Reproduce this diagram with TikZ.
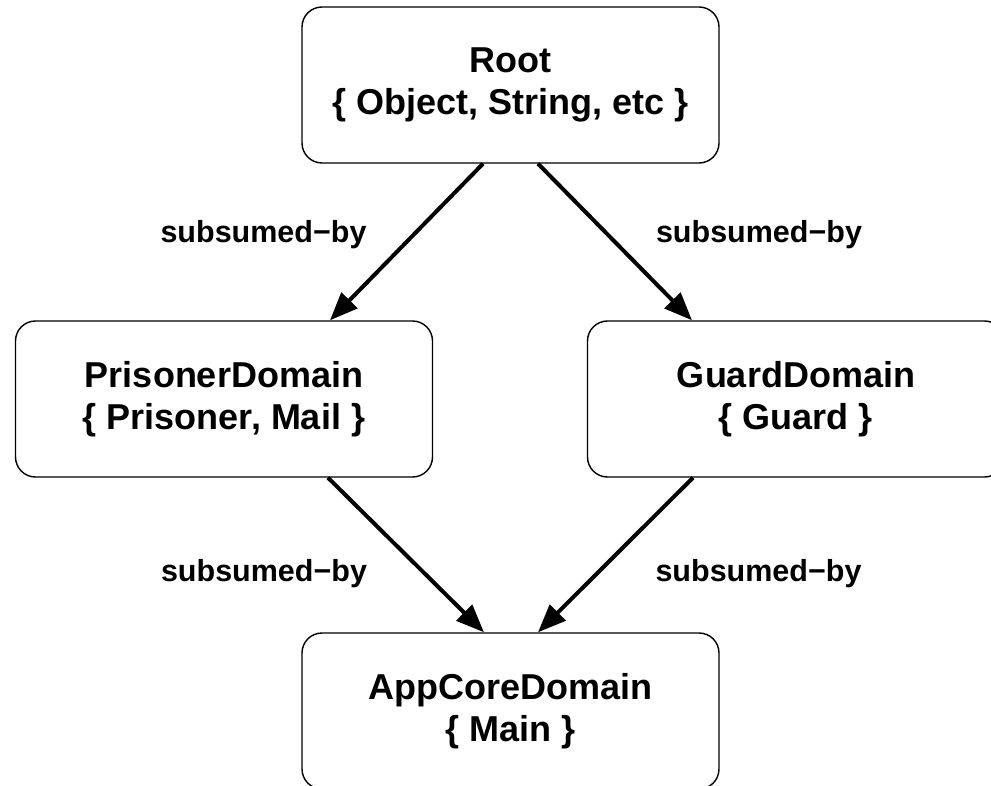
\documentclass[tikz,border=0pt]{standalone}
\usepackage{fontspec}
\setmainfont{Liberation Sans}
\usetikzlibrary{arrows.meta}
\tikzset{
  domainbox/.style={draw, line width=1.4pt, rounded corners=20pt, minimum width=417pt,
    minimum height=156pt, align=center, inner sep=0pt,
    font=\bfseries\fontsize{36}{42}\selectfont},
  sublabel/.style={anchor=base, inner sep=0pt, font=\bfseries\fontsize{30.5}{36}\selectfont},
  subarrow/.style={line width=4pt, -{Triangle[length=28pt,width=22pt]}}
}
\begin{document}
\begin{tikzpicture}[x=1pt,y=-1pt]
  \useasboundingbox (0,0) rectangle (991,786);%

  % Drawing boxes
  \node [domainbox] (root) at (510.5,85) {Root\\\{ Object, String, etc \}};%
  \node [domainbox] (prisoner) at (224,399) {PrisonerDomain\\\{ Prisoner, Mail \}};%
  \node [domainbox] (guard) at (796,399) {GuardDomain\\\{ Guard \}};%
  \node [domainbox] (appcore) at (510.5,711) {AppCoreDomain\\\{ Main \}};%

  % Drawing subsumed-by arrows
  \draw [subarrow] ([xshift=-27.5pt]root.south) -- ([xshift=106pt]prisoner.north);%
  \draw [subarrow] ([xshift=27.5pt]root.south) -- ([xshift=-104pt]guard.north);%
  \draw [subarrow] ([xshift=104pt]prisoner.south) -- ([xshift=-26.5pt]appcore.north);%
  \draw [subarrow] ([xshift=-103pt]guard.south) -- ([xshift=27.5pt]appcore.north);%

  % Marking labels
  \node [sublabel] (lblrootp) at (263.5,243) {subsumed−by};%
  \node [sublabel] (lblrootg) at (759,243) {subsumed−by};%
  \node [sublabel] (lblprisoner) at (264,581) {subsumed−by};%
  \node [sublabel] (lblguard) at (758.5,581) {subsumed−by};%
\end{tikzpicture}
\end{document}
